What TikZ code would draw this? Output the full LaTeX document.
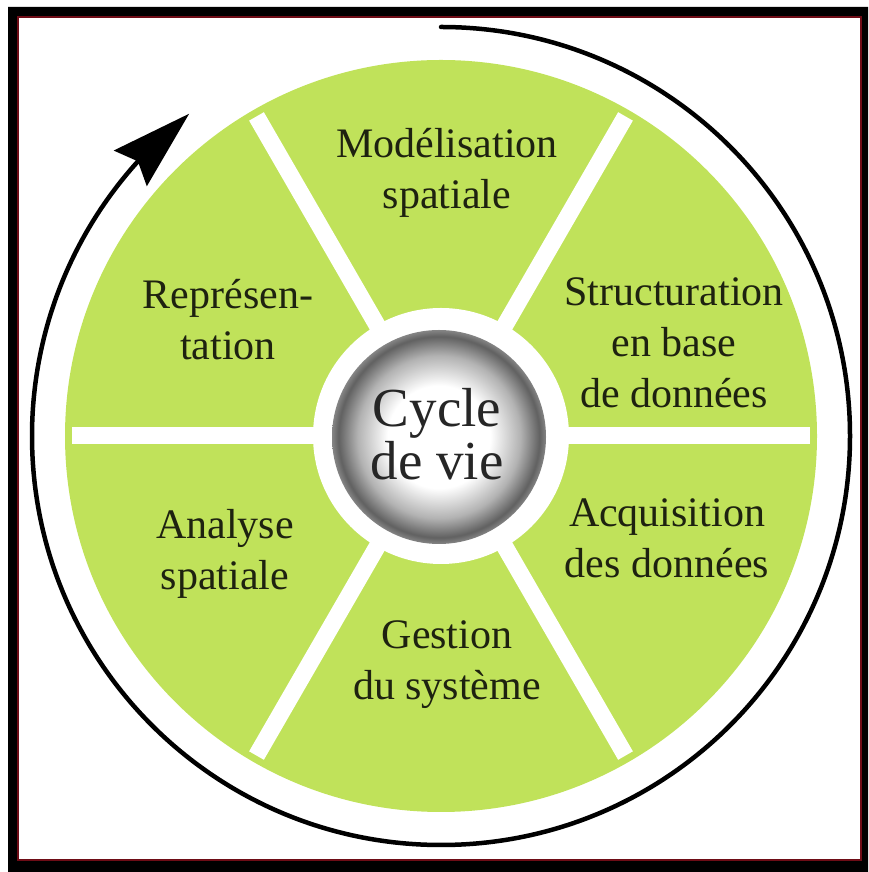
\documentclass[tikz,border=0pt]{standalone}
\usepackage{fontspec}
\setmainfont{Liberation Serif}
\usepackage{tikz}
\usetikzlibrary{arrows.meta,bending}

\definecolor{wheelgreen}{RGB}{192,226,90}
\definecolor{framered}{RGB}{110,12,22}
\definecolor{labeltext}{RGB}{30,34,16}
\pgfdeclareradialshading{ballgray}{\pgfpoint{0bp}{0bp}}{color(0bp)=(white); color(12bp)=(white); color(19bp)=(black!30); color(23.5bp)=(black!62); color(25bp)=(black!48); color(50bp)=(black!48)}

\tikzset{
	sector/.style={align=center, anchor=base, text=labeltext, inner sep=0pt, font=\fontsize{42}{51}\selectfont},
	hub/.style={align=center, anchor=base, text=black!85, inner sep=0pt, font=\fontsize{55}{53}\selectfont},
	spoke/.style={white, line width=17pt}
}

\begin{document}
\begin{tikzpicture}[x=1pt,y=1pt]
					\useasboundingbox (0,0) rectangle (868,872);
					% Frame
					\fill[black, even odd rule] (8,0) rectangle (868,865) (17,11) rectangle (862,856);
					\draw[framered, line width=2pt] (18,12) rectangle (861,855);
					% Wheel and spokes
					\coordinate (c) at (441,436);
					\fill[wheelgreen] (c) circle (376);
					\foreach \a in {0,60,...,300} \draw[spoke] (c) -- ++(\a:369);
					\fill[white] (c) circle (128);
					\shade[shading=ballgray] (439,435) circle (107);
					% Cycle arrow
					\draw[line width=4.5pt, line cap=round, -{Stealth[length=80pt,width=48pt,inset=10pt]}]
						([shift={(90:409)}]c) arc[start angle=90, end angle=-232, radius=409];
					% Sector labels (base = last line)
					\node[sector] (model) at (447,663) {Modélisation\\spatiale};
					\node[sector] (struct) at (674,464) {Structuration\\en base\\de données};
					\node[sector] (repr) at (228,512) {Représen-\\tation};
					\node[sector] (acq) at (667,294) {Acquisition\\des données};
					\node[sector] (anal) at (225,282) {Analyse\\spatiale};
					\node[sector] (gest) at (447,172) {Gestion\\du système};
					% Hub
					\node[hub] (cycle) at (437,392) {Cycle\\de vie};
				\end{tikzpicture}
\end{document}
